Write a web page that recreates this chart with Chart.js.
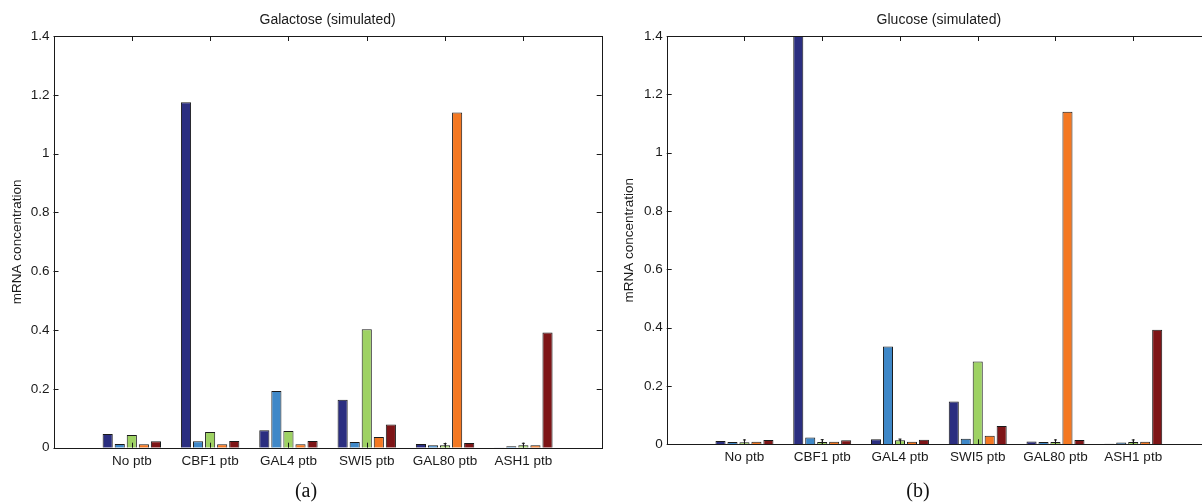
<!DOCTYPE html>
<html>
<head>
<meta charset="utf-8">
<script src="https://cdn.jsdelivr.net/npm/chart.js@4/dist/chart.umd.min.js"></script>
<style>
  html, body { margin: 0; padding: 0; background: #fff; overflow: hidden; }
  body { width: 1202px; height: 503px; position: relative; }
  .box { position: absolute; top: 0; height: 503px; width: 612px; }
  .cap { position: absolute; top: 479px; font-family: "Liberation Serif", "DejaVu Serif", serif; font-size: 20px; color: #111; transform: translateX(-50%); }
</style>
</head>
<body>
<div class="box" style="left:0"><canvas id="chartA"></canvas></div>
<div class="box" style="left:612px"><canvas id="chartB"></canvas></div>
<div class="cap" style="left:306px">(a)</div>
<div class="cap" style="left:918px">(b)</div>
<script>
// perturbation experiments (x categories)
var categories = ['No ptb', 'CBF1 ptb', 'GAL4 ptb', 'SWI5 ptb', 'GAL80 ptb', 'ASH1 ptb'];
// genes measured (one bar each per group)
var genes = ['CBF1', 'GAL4', 'SWI5', 'GAL80', 'ASH1'];
var geneColors = ['#2b2e80', '#3f88c8', '#9ed263', '#f47822', '#7e1517'];
var yTicks = [0, 0.2, 0.4, 0.6, 0.8, 1, 1.2, 1.4];

// Galactose (simulated), values
var galCBF1  = [0.047, 1.175, 0.059, 0.163, 0.013, 0.001];
var galGAL4  = [0.013, 0.022, 0.193, 0.019, 0.008, 0.005];
var galSWI5  = [0.043, 0.053, 0.057, 0.403, 0.008, 0.008];
var galGAL80 = [0.012, 0.012, 0.012, 0.036, 1.140, 0.008];
var galASH1  = [0.022, 0.023, 0.023, 0.079, 0.016, 0.392];
var galSWI5err = [0, 0, 0, 0, 0.006, 0.007];

// Glucose (simulated)
var gluCBF1  = [0.011, 1.55, 0.017, 0.147, 0.010, 0.002];
var gluGAL4  = [0.008, 0.023, 0.335, 0.019, 0.008, 0.006];
var gluSWI5  = [0.007, 0.008, 0.014, 0.284, 0.008, 0.008];
var gluGAL80 = [0.009, 0.009, 0.009, 0.029, 1.140, 0.009];
var gluASH1  = [0.015, 0.014, 0.016, 0.063, 0.015, 0.393];
var gluSWI5err = [0.008, 0.008, 0.004, 0, 0.007, 0.007];

// empty slot on each side so groups sit at x = 1..6 of 0..7
function pad(arr) { return [null].concat(arr, [null]); }
var paddedLabels = [''].concat(categories, ['']);

var ink = '#1a1a1a';
var sans = '"Liberation Sans", Arial, sans-serif';

// matlab style box with inward ticks, title over the plot, error bars on SWI5
var boxPlugin = {
    id: 'boxTicks',
    afterDatasetsDraw: function(chart, args, opts) {
        var c = chart.ctx, a = chart.chartArea;
        var xs = chart.scales.x, ys = chart.scales.y;
        c.save();
        c.strokeStyle = ink;
        c.lineWidth = 1;
        var meta = chart.getDatasetMeta(2);
        var vals = chart.data.datasets[2].data;
        opts.err.forEach(function(e, i) {
            if (!e) return;
            var bar = meta.data[i + 1];
            var v = vals[i + 1];
            var y1 = ys.getPixelForValue(v - e), y2 = ys.getPixelForValue(v + e);
            c.beginPath();
            c.moveTo(bar.x, y1); c.lineTo(bar.x, y2);
            c.moveTo(bar.x - 1.5, y2); c.lineTo(bar.x + 1.5, y2);
            c.stroke();
        });
        c.strokeRect(Math.round(a.left) + 0.5, Math.round(a.top) + 0.5, Math.round(a.right - a.left), Math.round(a.bottom - a.top));
        var t = 5;
        yTicks.forEach(function(v) {
            var y = Math.round(ys.getPixelForValue(v)) + 0.5;
            c.beginPath();
            c.moveTo(a.left, y); c.lineTo(a.left + t, y);
            c.moveTo(a.right, y); c.lineTo(a.right - t, y);
            c.stroke();
        });
        for (var i = 1; i <= categories.length; i++) {
            var x = Math.round(xs.getPixelForValue(i)) + 0.5;
            c.beginPath();
            c.moveTo(x, a.top); c.lineTo(x, a.top + t);
            c.moveTo(x, a.bottom); c.lineTo(x, a.bottom - t);
            c.stroke();
        }
        c.fillStyle = ink;
        c.font = '14px ' + sans;
        c.textAlign = 'center';
        c.textBaseline = 'middle';
        c.fillText(opts.title, (a.left + a.right) / 2, 20);
        c.restore();
    }
};

function makeChart(id, title, series, err, yWidth, xHeight, rightPad) {
    var datasets = series.map(function(s, k) {
        return {
            label: genes[k],
            data: pad(s),
            backgroundColor: geneColors[k],
            borderColor: ink,
            borderWidth: 1,
            categoryPercentage: 0.77,
            barPercentage: 0.84
        };
    });
    return new Chart(document.getElementById(id), {
        type: 'bar',
        data: { labels: paddedLabels, datasets: datasets },
        plugins: [boxPlugin],
        options: {
            responsive: false,
            animation: false,
            devicePixelRatio: 1,
            layout: { padding: { left: 0, right: rightPad, top: 36, bottom: 0 } },
            plugins: {
                legend: { display: false },
                tooltip: { enabled: false },
                title: { display: false },
                boxTicks: { err: err, title: title }
            },
            scales: {
                x: {
                    offset: false,
                    grid: { display: false, drawTicks: false },
                    border: { display: false },
                    ticks: { color: ink, padding: 5, maxRotation: 0, autoSkip: false,
                             font: { family: sans, size: 13.5 } },
                    afterFit: function(s) { s.height = xHeight; }
                },
                y: {
                    min: 0, max: 1.4,
                    grid: { display: false, drawTicks: false },
                    border: { display: false },
                    ticks: { stepSize: 0.2, color: ink, padding: 4,
                             font: { family: sans, size: 13.5 },
                             callback: function(v) { return String(Number(v.toFixed(1))); } },
                    title: { display: true, text: 'mRNA concentration', color: ink,
                             font: { family: sans, size: 13.5 }, padding: { top: 9, bottom: 2 } },
                    afterFit: function(s) { s.width = yWidth; }
                }
            }
        }
    });
}

var cA = document.getElementById('chartA'); cA.width = 612; cA.height = 503;
var cB = document.getElementById('chartB'); cB.width = 612; cB.height = 503;

makeChart('chartA', 'Galactose (simulated)',
    [galCBF1, galGAL4, galSWI5, galGAL80, galASH1], galSWI5err, 53.5, 55.3, 10.3);
makeChart('chartB', 'Glucose (simulated)',
    [gluCBF1, gluGAL4, gluSWI5, gluGAL80, gluASH1], gluSWI5err, 54.7, 58.7, 13);
</script>
</body>
</html>
